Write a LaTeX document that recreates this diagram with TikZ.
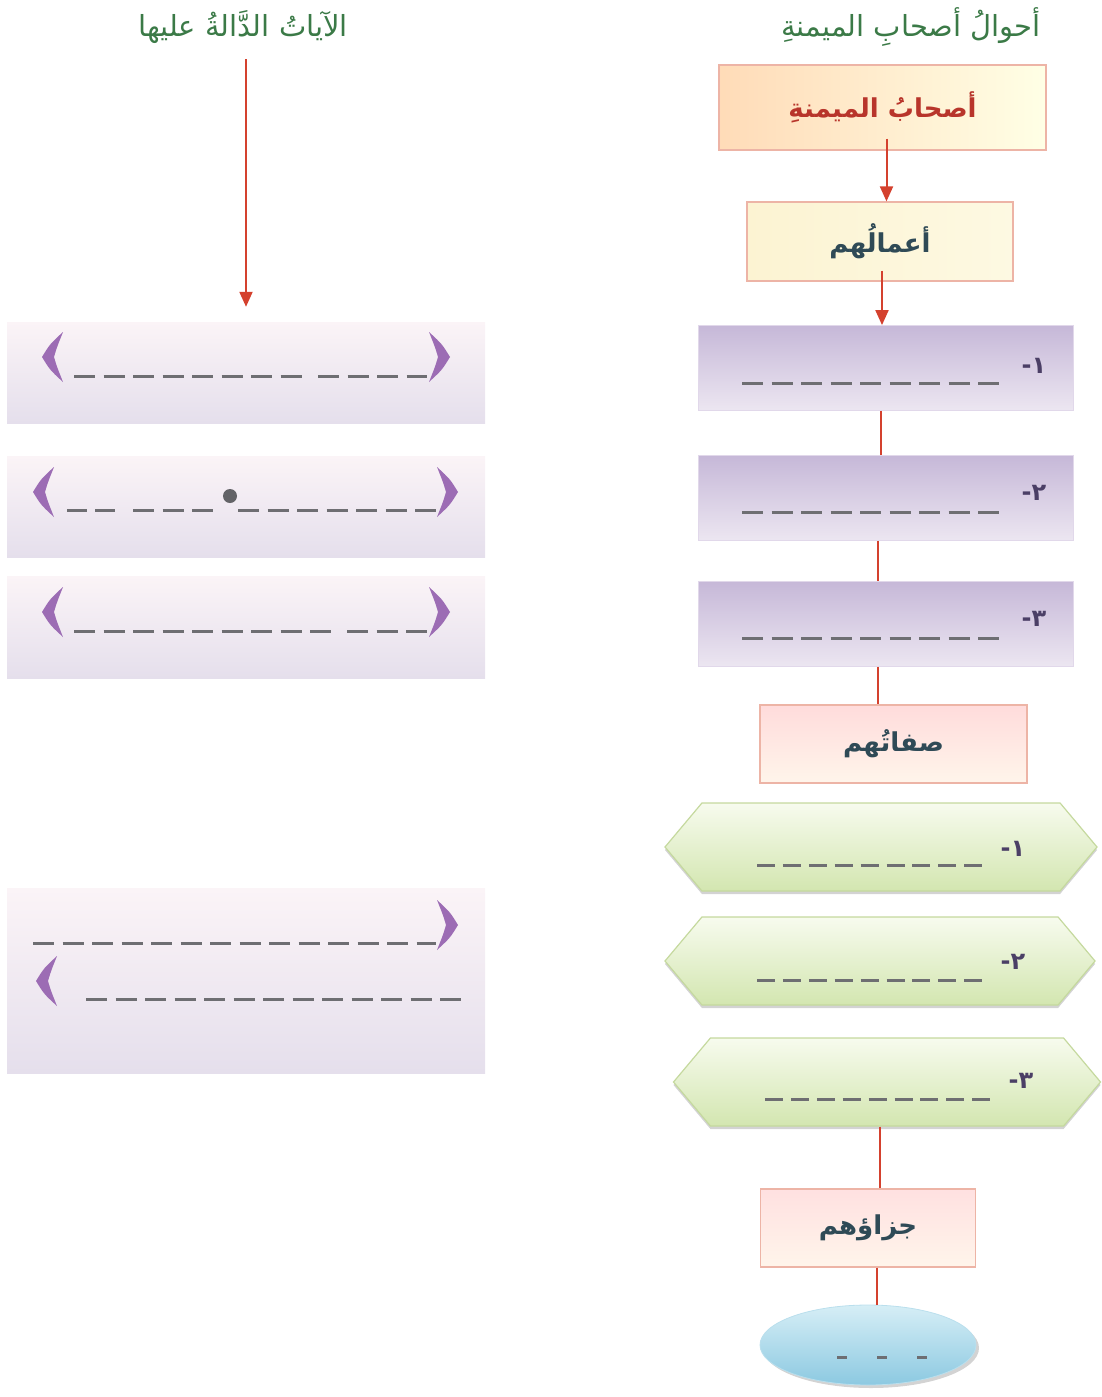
\documentclass[tikz,border=0pt]{standalone}
\usepackage{fontspec}
\newfontfamily\arabicfont[Script=Arabic]{DejaVu Sans}
\TeXXeTstate=1
\usetikzlibrary{shapes.geometric, shapes.symbols, arrows.meta, shadows}

\definecolor{titlegreen}{HTML}{3B7A47}
\definecolor{linered}{HTML}{D4412E}
\definecolor{boxedge}{HTML}{EDB4A6}
\definecolor{textslate}{HTML}{2F4A56}
\definecolor{textred}{HTML}{B8352B}
\definecolor{creamleft}{HTML}{FCF3D2}
\definecolor{creamright}{HTML}{FDF9E2}
\definecolor{lilactop}{HTML}{C6B8D8}
\definecolor{lilacbot}{HTML}{ECE6F1}
\definecolor{versetop}{HTML}{FBF4F7}
\definecolor{versebot}{HTML}{E5DFEC}
\definecolor{mintop}{HTML}{F7FBEE}
\definecolor{minbot}{HTML}{D3E6B0}
\definecolor{minedge}{HTML}{C5D99E}
\definecolor{skytop}{HTML}{D6EEF6}
\definecolor{skybot}{HTML}{8CC9E1}
\definecolor{ornpurple}{HTML}{9C6CB4}
\definecolor{blankgray}{HTML}{6E6E72}
\definecolor{numpurple}{HTML}{4B3F66}

\tikzstyle{heading} = [text=titlegreen, font=\arabicfont\fontsize{29}{34}\selectfont]
\tikzstyle{topicbox} = [rectangle, draw=boxedge, line width=1.2pt, text=textslate, font=\arabicfont\bfseries\fontsize{26}{30}\selectfont]
\tikzstyle{workbox} = [rectangle, draw=lilacbot!70!lilactop, line width=0.8pt, top color=lilactop, bottom color=lilacbot, minimum width=375pt, minimum height=85pt]
\tikzstyle{versebox} = [rectangle, top color=versetop, bottom color=versebot, minimum width=478pt]
\tikzstyle{traitbox} = [signal, signal to=west and east, signal pointer angle=100, draw=minedge, line width=1.2pt, top color=mintop, bottom color=minbot, minimum height=88pt, drop shadow={shadow xshift=0pt, shadow yshift=-3pt, opacity=0.35}]
\tikzstyle{rewardoval} = [ellipse, draw=skybot!60!white, line width=0.8pt, top color=skytop, bottom color=skybot, minimum width=216pt, minimum height=80pt, drop shadow={shadow xshift=3pt, shadow yshift=-3pt, opacity=0.35}]
\tikzstyle{numlabel} = [text=numpurple, font=\arabicfont\bfseries\fontsize{24}{28}\selectfont]
\tikzstyle{joinline} = [draw=linered, line width=2pt]
\tikzstyle{joinarrow} = [joinline, -{Triangle[width=13pt,length=15pt]}]
\tikzstyle{blankline} = [draw=blankgray, line width=3pt, dash pattern=on 21pt off 8.5pt]
\tikzstyle{orn} = [fill=ornpurple]

\begin{document}
\begin{tikzpicture}[x=1pt, y=-1pt]
    \useasboundingbox (0,0) rectangle (1101,1397);

    % Headings
    \node (t1) [heading] at (911,27) {\beginR أحوالُ أصحابِ الميمنةِ\endR};
    \node (t2) [heading] at (243,27) {\beginR الآياتُ الدَّالةُ عليها\endR};

    % Right column
    \node (b1) [topicbox, left color=orange!28!white, right color=yellow!10!white, minimum width=327pt, minimum height=85pt, text=textred] at (882.5,107.5) {\beginR أصحابُ الميمنةِ\endR};
    \node (b2) [topicbox, left color=creamleft, right color=creamright, minimum width=266pt, minimum height=79pt] at (880,241.5) {\beginR أعمالُهم\endR};

    \node (p1) [workbox] at (885.5,368) {};
    \node (p2) [workbox] at (885.5,498) {};
    \node (p3) [workbox] at (885.5,624) {};
    \node (n1) [numlabel] at (1034,366) {-\kern0pt ١};
    \node (n2) [numlabel] at (1034,493) {-\kern0pt ٢};
    \node (n3) [numlabel] at (1034,619) {-\kern0pt ٣};

    \node (sifat) [topicbox, top color=red!14!white, bottom color=orange!8!white, minimum width=267pt, minimum height=78pt] at (893.5,744) {\beginR صفاتُهم\endR};

    \node (h1) [traitbox, minimum width=432pt] at (881,847) {};
    \node (h2) [traitbox, minimum width=430pt] at (880,961) {};
    \node (h3) [traitbox, minimum width=427pt] at (887,1082) {};
    \node (m1) [numlabel] at (1013,849) {-\kern0pt ١};
    \node (m2) [numlabel] at (1013,962) {-\kern0pt ٢};
    \node (m3) [numlabel] at (1021,1081) {-\kern0pt ٣};

    \node (jaza) [topicbox, top color=red!12!white, bottom color=orange!8!white, minimum width=215pt, minimum height=78pt] at (868,1228) {\beginR جزاؤهم\endR};
    \node (oval) [rewardoval] at (868,1345) {};

    % Left column
    \node (v1) [versebox, minimum height=101pt] at (246,372.5) {};
    \node (v2) [versebox, minimum height=101pt] at (246,506.5) {};
    \node (v3) [versebox, minimum height=102pt] at (246,627) {};
    \node (v4) [versebox, minimum height=185pt] at (246,980.5) {};

    % Connections
    \draw [joinarrow, shorten <=-12pt] ([xshift=4pt]b1.south) -- ([xshift=4pt]b1.south |- b2.north);
    \draw [joinarrow, shorten <=-11pt] ([xshift=2pt]b2.south) -- ([xshift=2pt]b2.south |- p1.north);
    \draw [joinline] ([xshift=-5pt]p1.south) -- ([xshift=-5pt]p1.south |- p2.north);
    \draw [joinline] ([xshift=-8pt]p2.south) -- ([xshift=-8pt]p2.south |- p3.north);
    \draw [joinline] ([xshift=-8pt]p3.south) -- ([xshift=-8pt]p3.south |- sifat.north);
    \draw [joinline] ([xshift=-7pt]h3.south) -- ([xshift=-7pt]h3.south |- jaza.north);
    \draw [joinline] ([xshift=9pt]jaza.south) -- ([xshift=9pt]jaza.south |- oval.north);
    \draw [joinarrow, shorten <=12pt, shorten >=15pt] (t2.south -| v1.north) -- (v1.north);

    % Blanks to fill in
    \draw [blankline] (742,383) -- (999,383);
    \draw [blankline] (742,512) -- (999,512);
    \draw [blankline] (742,638) -- (999,638);
    \draw [blankline, dash pattern=on 18pt off 7.9pt] (757,865) -- (982,865);
    \draw [blankline, dash pattern=on 18pt off 7.9pt] (757,980) -- (982,980);
    \draw [blankline, dash pattern=on 18pt off 7.9pt] (765,1099) -- (990,1099);
    \draw [blankline, dash pattern=on 10pt off 30pt] (837,1357) -- (927,1357);

    \draw [blankline] (74,376) -- (302,376);
    \draw [blankline] (318,376) -- (427,376);
    \draw [blankline, dash pattern=on 20pt off 8pt] (67,510) -- (115,510);
    \draw [blankline] (133,510) -- (213,510);
    \fill [blankgray!90!black] (230,496) circle (7pt);
    \draw [blankline] (238,510) -- (436,510);
    \draw [blankline] (74,631) -- (332,631);
    \draw [blankline] (347,631) -- (427,631);
    \draw [blankline] (33,943) -- (436,943);
    \draw [blankline] (86,999) -- (461,999);

    % Ornate brackets
    \foreach \x/\y in {42/357, 33/492, 42/612, 36/981}
        \fill [orn] (\x+21,\y-25) .. controls (\x+8,\y-13) .. (\x,\y) .. controls (\x+8,\y+13) .. (\x+21,\y+25) .. controls (\x+15,\y+10) .. (\x+12,\y) .. controls (\x+15,\y-10) .. (\x+21,\y-25) -- cycle;
    \foreach \x/\y in {450/357, 458/492, 450/612, 458/925}
        \fill [orn] (\x-21,\y-25) .. controls (\x-8,\y-13) .. (\x,\y) .. controls (\x-8,\y+13) .. (\x-21,\y+25) .. controls (\x-15,\y+10) .. (\x-12,\y) .. controls (\x-15,\y-10) .. (\x-21,\y-25) -- cycle;

\end{tikzpicture}
\end{document}
